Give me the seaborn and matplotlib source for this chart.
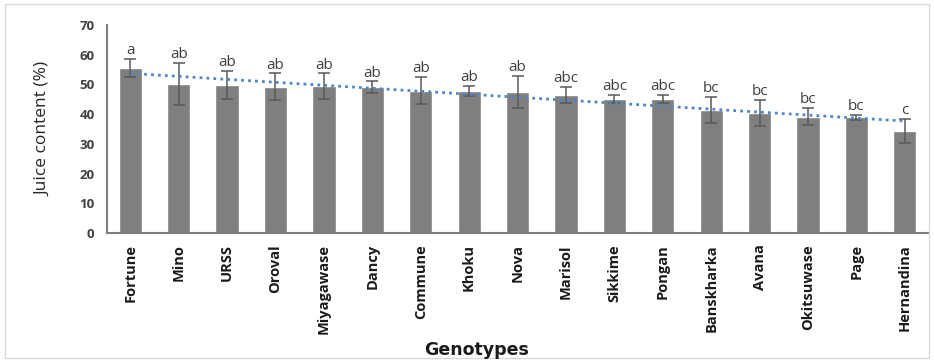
import numpy as np
import pandas as pd
import matplotlib
matplotlib.use("Agg")
import matplotlib.pyplot as plt
import seaborn as sns

genotypes = ["Fortune", "Mino", "URSS", "Oroval", "Miyagawase", "Dancy", "Commune",
             "Khoku", "Nova", "Marisol", "Sikkime", "Pongan", "Banskharka", "Avana",
             "Okitsuwase", "Page", "Hernandina"]
juice = [55.6, 50.2, 49.8, 49.2, 49.4, 49.0, 47.9, 47.8, 47.5, 46.4, 45.1, 45.0,
         41.4, 40.4, 39.1, 38.9, 34.3]
err = [3.0, 7.0, 4.7, 4.5, 4.3, 2.0, 4.5, 1.7, 5.3, 2.7, 1.4, 1.4, 4.3, 4.4, 2.9, 0.8, 4.1]
letters = ["a", "ab", "ab", "ab", "ab", "ab", "ab", "ab", "ab", "abc", "abc", "abc",
           "bc", "bc", "bc", "bc", "c"]
yticks = [0, 10, 20, 30, 40, 50, 60, 70]

df = pd.DataFrame({"Genotype": genotypes, "Juice": juice})

sns.set_theme(style="white")
plt.rcParams["font.family"] = ["Open Sans", "DejaVu Sans"]

fig = plt.figure(figsize=(9.34, 3.62), dpi=100)
ax = fig.add_axes([0.1146, 0.356, 0.879, 0.575])

sns.barplot(data=df, x="Genotype", y="Juice", color="#7f7f7f", saturation=1,
            width=0.48, ax=ax, errorbar=None)
x = np.arange(len(genotypes))
ax.errorbar(x, juice, yerr=err, fmt="none", ecolor="#595959", elinewidth=1.1,
            capsize=4, capthick=1.1)

# linear trend line (Excel-style)
coef = np.polyfit(x, juice, 1)
ax.plot(x, np.polyval(coef, x), linestyle=(0, (1, 1.5)), color="#4f86c6", lw=2.0)

for xi, v, e, lab in zip(x, juice, err, letters):
    ax.text(xi, v + e + 0.3, lab, ha="center", va="bottom", fontsize=11, color="#404040")

ax.set_ylim(0, 70)
ax.set_yticks(yticks)
ax.set_xlim(-0.48, len(genotypes) - 0.52)
ax.set_xlabel("")
ax.set_ylabel("Juice content (%)", fontsize=12.5, color="#262626", labelpad=20)
ax.tick_params(axis="y", labelsize=9.5, colors="#404040", length=0, pad=9)
ax.tick_params(axis="x", labelsize=10.5, colors="#1a1a1a", length=0, pad=8)
for lbl in ax.get_xticklabels():
    lbl.set_rotation(90)
    lbl.set_fontweight("bold")
for lbl in ax.get_yticklabels():
    lbl.set_fontweight("bold")

fig.text(477 / 934, 1 - 350 / 362, "Genotypes", ha="center", va="center",
         fontsize=12.5, fontweight="bold", family="DejaVu Sans", color="#1a1a1a")

sns.despine(ax=ax)
for s in ["left", "bottom"]:
    ax.spines[s].set_color("#7f7f7f")
    ax.spines[s].set_linewidth(1.5)

# chart border
fig.patches.append(plt.Rectangle((0.005, 0.01), 0.99, 0.98, transform=fig.transFigure,
                                 fill=False, edgecolor="#d9d9d9", lw=1))

fig.savefig("out.png", dpi=100)
